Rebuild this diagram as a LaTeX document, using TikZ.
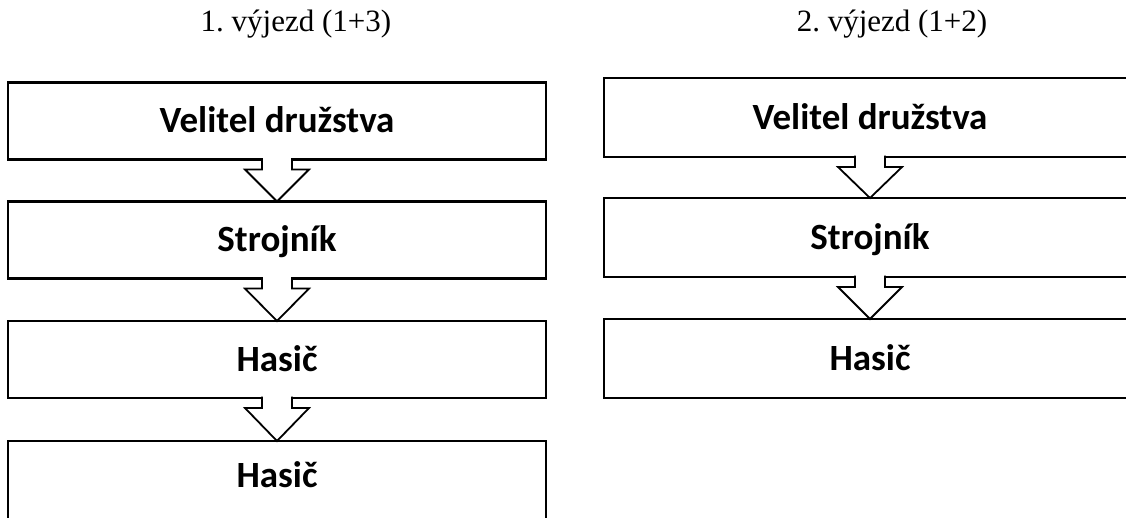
\documentclass[tikz,border=0pt]{standalone}
\usepackage{fontspec}
\setmainfont{Liberation Serif}
\newfontfamily\boxfont{Carlito}
\usetikzlibrary{calc}
\frenchspacing
\newcommand{\hollowarrow}[2]{%
  \fill[white] ($(#1.south)+(-14,-2.5)$) rectangle ($(#1.south)+(14,8)$);
  \draw[arr] ($(#1.south)+(-15,-1.3)$) -- ($(#1.south)+(-15,10)$) -- ($(#1.south)+(-32,10)$) -- (#2.north)
     -- ($(#1.south)+(32,10)$) -- ($(#1.south)+(15,10)$) -- ($(#1.south)+(15,-1.3)$);
}
\begin{document}
\begin{tikzpicture}[x=1pt,y=-1pt,
  boxtext/.style={font=\boxfont\bfseries\fontsize{37}{40}\selectfont, text height=23.5pt, text depth=0pt, inner sep=0pt},
  box/.style={boxtext, draw, line width=2.6pt, rectangle, outer sep=0pt},
  lbox/.style={box, minimum width=538pt, minimum height=77pt},
  rbox/.style={box, minimum width=532pt, minimum height=79pt},
  arr/.style={draw, line width=1.8pt, line join=miter},
  title/.style={font=\fontsize{31}{36}\selectfont, anchor=base, inner sep=0pt}]
\clip (0,0) rectangle (1126,518);
\fill[white] (0,0) rectangle (1126,518);
\node[title] (t1) at (296,32) {1. výjezd (1+3)};
\node[title] (t2) at (892,32) {2. výjezd (1+2)};
% left column
\node[lbox] (l1) at (277,121) {Velitel družstva};
\node[lbox] (l2) at (277,240) {Strojník};
\node[lbox] (l3) at (277,359.5) {Hasič};
\node[lbox, minimum height=90pt] (l4) at (277,486) {};
\node[boxtext] (l4t) at (277,476) {Hasič};
% right column
\node[rbox] (r1) at (870,117.5) {Velitel družstva};
\node[rbox] (r2) at (870,237.5) {Strojník};
\node[rbox] (r3) at (870,358.5) {Hasič};
\hollowarrow{l1}{l2}
\hollowarrow{l2}{l3}
\hollowarrow{l3}{l4}
\hollowarrow{r1}{r2}
\hollowarrow{r2}{r3}
\end{tikzpicture}
\end{document}
